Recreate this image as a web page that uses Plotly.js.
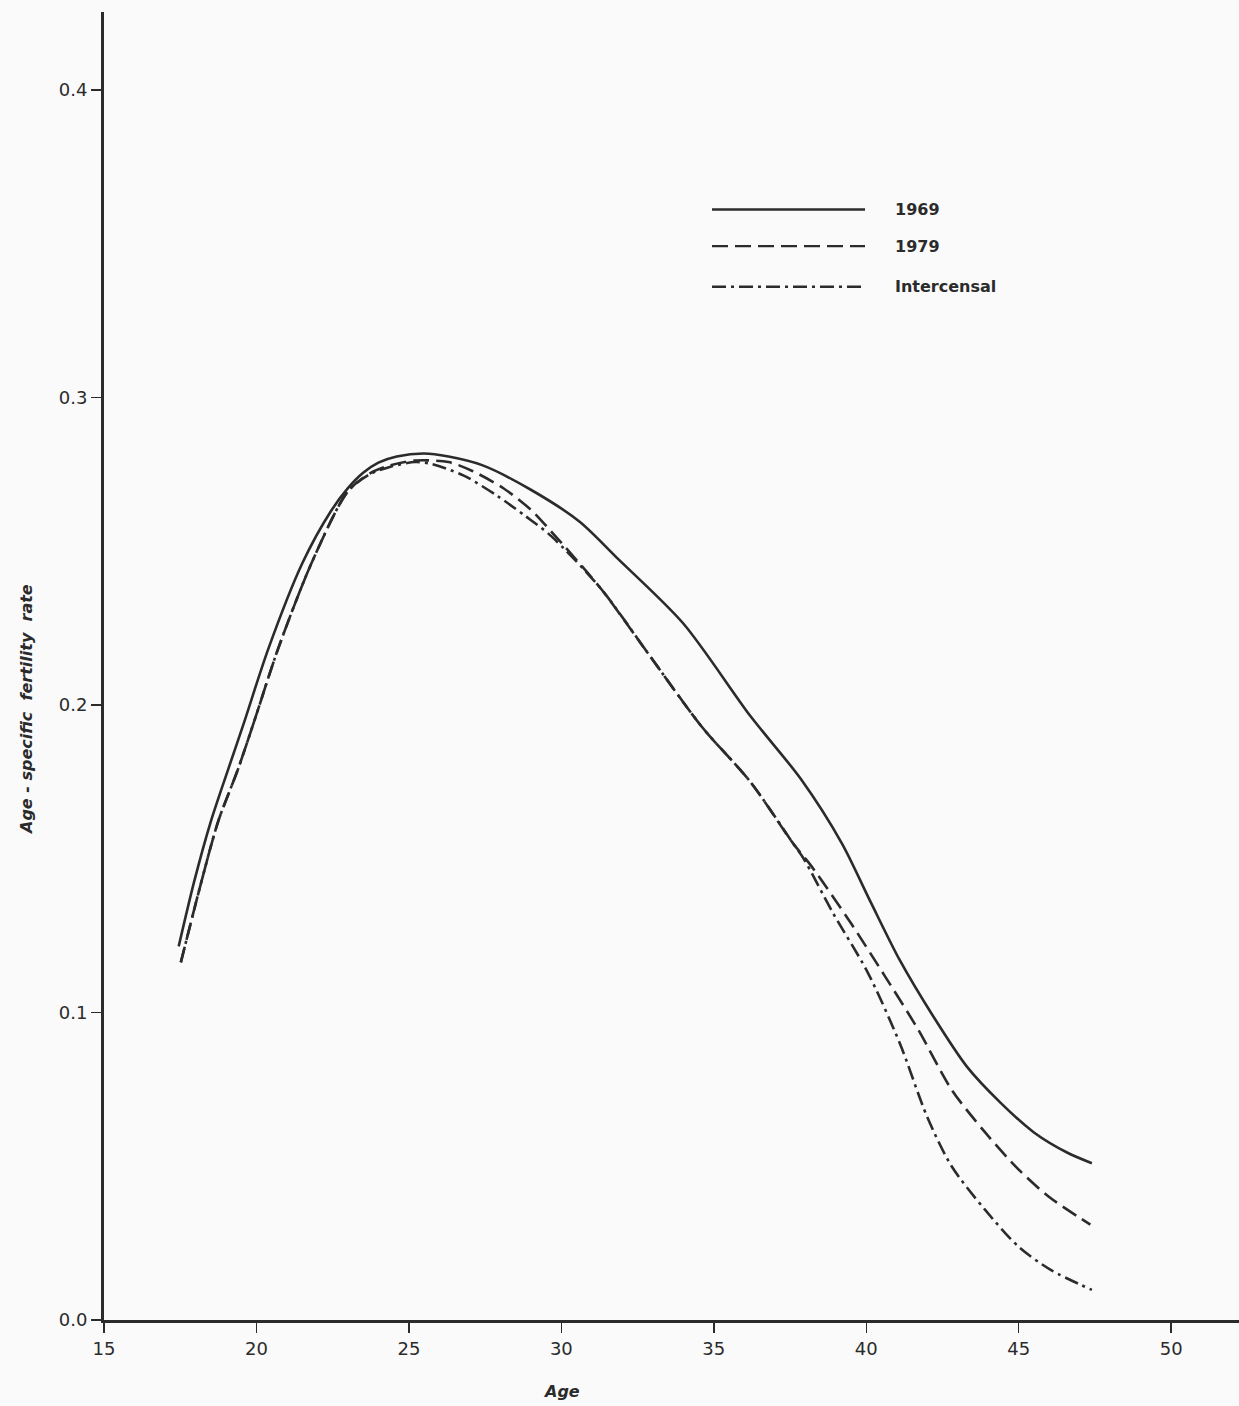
<!DOCTYPE html>
<html>
<head>
<meta charset="utf-8">
<script src="https://cdn.plot.ly/plotly-3.0.1.min.js"></script>
<style>html,body{margin:0;padding:0;background:#fafafa;}#chart{width:1239px;height:1406px;}</style>
</head>
<body>
<div id="chart"></div>
<script>
// Data
const age1969 = [17.45, 17.95, 18.5, 19.07, 19.6, 20.38, 21.5, 22.44, 23.0, 23.5, 24.0, 24.6, 25.5, 26.3, 27.4, 29.0, 30.6, 31.85, 34.0, 36.2, 37.85, 39.2, 40.15, 41.1, 42.2, 43.3, 44.4, 45.5, 46.6, 47.4];
const rate1969 = [0.1215, 0.1423, 0.162, 0.179, 0.1945, 0.218, 0.246, 0.263, 0.2705, 0.2755, 0.2788, 0.2808, 0.2818, 0.2808, 0.278, 0.270, 0.2596, 0.2476, 0.2265, 0.1964, 0.176, 0.155, 0.1358, 0.117, 0.0987, 0.0824, 0.0707, 0.061, 0.0544, 0.051];

const age1979 = [17.52, 18.18, 18.74, 19.39, 19.92, 20.7, 21.8, 23.0, 23.75, 24.4, 25.2, 26.3, 27.1, 28.1, 29.0, 29.66, 31.3, 32.9, 34.6, 36.2, 37.6, 38.2, 39.5, 40.6, 41.7, 42.8, 43.9, 45.0, 46.0, 47.35];
const rate1979 = [0.1163, 0.142, 0.162, 0.179, 0.1945, 0.218, 0.246, 0.2695, 0.2755, 0.278, 0.2795, 0.279, 0.276, 0.2705, 0.2635, 0.2565, 0.2378, 0.216, 0.193, 0.175, 0.155, 0.1476, 0.129, 0.112, 0.0945, 0.0749, 0.061, 0.0489, 0.040, 0.031];

const ageInter = [17.52, 18.18, 18.74, 19.39, 19.92, 20.7, 21.8, 23.0, 23.75, 24.4, 25.2, 25.7, 26.8, 27.9, 28.8, 29.66, 31.3, 32.9, 34.6, 36.2, 37.6, 37.95, 38.9, 40.05, 41.1, 42.0, 42.8, 43.9, 45.0, 46.05, 47.4];
const rateInter = [0.1163, 0.142, 0.162, 0.179, 0.1945, 0.218, 0.246, 0.2695, 0.2752, 0.2775, 0.279, 0.2785, 0.2746, 0.268, 0.2616, 0.255, 0.2378, 0.216, 0.193, 0.175, 0.155, 0.150, 0.1325, 0.113, 0.090, 0.066, 0.050, 0.0358, 0.0238, 0.0163, 0.0098];

const seriesNames = ["1969", "1979", "Intercensal"];
const xTicks = [15, 20, 25, 30, 35, 40, 45, 50];
const yTicks = [0, 0.1, 0.2, 0.3, 0.4];
const yTickText = ["0.0", "0.1", "0.2", "0.3", "0.4"];

const ink = "#2b2b2b";
const dashes = ["solid", "16px,7px", "14px,5px,3px,5px"];
const font = "DejaVu Sans, sans-serif";

const traces = [
  {x: age1969, y: rate1969, name: seriesNames[0]},
  {x: age1979, y: rate1979, name: seriesNames[1]},
  {x: ageInter, y: rateInter, name: seriesNames[2]}
].map((t, i) => Object.assign(t, {
  type: "scatter", mode: "lines",
  line: {color: ink, width: 2.6, dash: dashes[i], shape: "spline", smoothing: 0.8},
  hoverinfo: "x+y+name"
}));

// Custom legend (long line samples, as in the original)
const legY = [0.849, 0.821, 0.790];
const shapes = legY.map((yy, i) => ({
  type: "line", xref: "paper", yref: "paper",
  x0: (712 - 104) / 1135, x1: (865 - 104) / 1135, y0: yy, y1: yy,
  line: {color: ink, width: 2.4, dash: dashes[i]}
}));
const annotations = legY.map((yy, i) => ({
  xref: "paper", yref: "paper", x: (893 - 104) / 1135, y: yy,
  xanchor: "left", yanchor: "middle", showarrow: false,
  text: "<b>" + seriesNames[i] + "</b>",
  font: {family: font, size: 16, color: ink}
}));
annotations.push({
  xref: "paper", yref: "paper", x: (26 - 104) / 1135, y: (1320 - 710) / 1308,
  xanchor: "center", yanchor: "middle", showarrow: false, textangle: -90,
  text: "<b><i>Age - specific  fertility  rate</i></b>",
  font: {family: font, size: 16, color: ink}
});
annotations.push({
  xref: "paper", yref: "paper", x: (561 - 104) / 1135, y: -(1391 - 1320) / 1308,
  xanchor: "center", yanchor: "middle", showarrow: false,
  text: "<b><i>Age</i></b>",
  font: {family: font, size: 16, color: ink}
});

const layout = {
  width: 1239, height: 1406,
  margin: {l: 104, r: 0, t: 12, b: 86},
  paper_bgcolor: "#fafafa", plot_bgcolor: "#fafafa",
  showlegend: false,
  font: {family: font, color: ink},
  xaxis: {
    range: [15, 15 + 1135 / 30.49], tickvals: xTicks, ticktext: xTicks.map(String),
    showgrid: false, zeroline: false, showline: true, linecolor: ink, linewidth: 3,
    ticks: "outside", ticklen: 10, tickwidth: 1.5, tickcolor: ink,
    tickfont: {family: font, size: 18, color: ink}
  },
  yaxis: {
    range: [0, 1308 / 3075], tickvals: yTicks, ticktext: yTickText,
    showgrid: false, zeroline: false, showline: true, linecolor: ink, linewidth: 3,
    ticks: "outside", ticklen: 10, tickwidth: 1.5, tickcolor: ink,
    tickfont: {family: font, size: 18, color: ink}
  },
  shapes: shapes,
  annotations: annotations
};

Plotly.newPlot("chart", traces, layout, {displayModeBar: false, staticPlot: true});
</script>
</body>
</html>
